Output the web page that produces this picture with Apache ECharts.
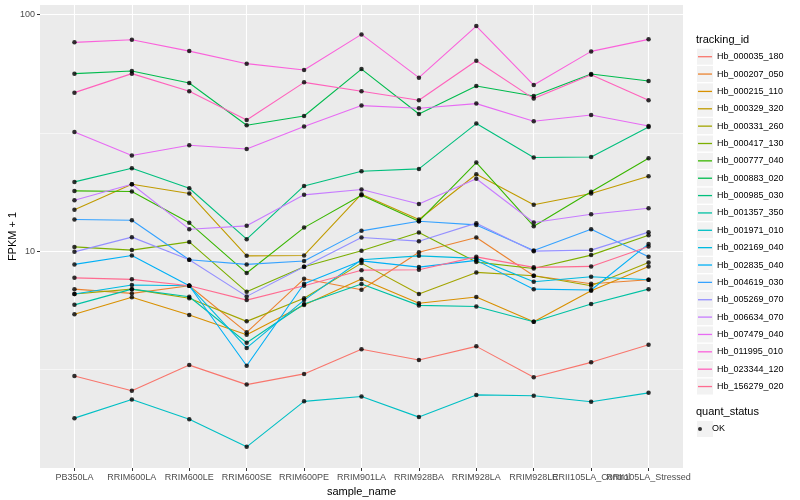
<!DOCTYPE html>
<html><head><meta charset="utf-8">
<script src="https://cdn.jsdelivr.net/npm/echarts@6/dist/echarts.min.js"></script>
<style>html,body{margin:0;padding:0;background:#fff}#c{width:800px;height:500px}</style>
</head><body><div id="c"></div>
<script>
const categories = ['PB350LA','RRIM600LA','RRIM600LE','RRIM600SE','RRIM600PE','RRIM901LA','RRIM928BA','RRIM928LA','RRIM928LE','RRII105LA_Control','RRII105LA_Stressed'];
const trackingIds = ['Hb_000035_180','Hb_000207_050','Hb_000215_110','Hb_000329_320','Hb_000331_260','Hb_000417_130','Hb_000777_040','Hb_000883_020','Hb_000985_030','Hb_001357_350','Hb_001971_010','Hb_002169_040','Hb_002835_040','Hb_004619_030','Hb_005269_070','Hb_006634_070','Hb_007479_040','Hb_011995_010','Hb_023344_120','Hb_156279_020'];

const Hb_000035_180 = [2.97, 2.57, 3.30, 2.73, 3.03, 3.85, 3.47, 3.96, 2.93, 3.39, 4.02];
const Hb_000207_050 = [6.91, 6.63, 7.14, 4.54, 7.64, 6.87, 9.90, 11.42, 7.87, 7.28, 7.57];
const Hb_000215_110 = [5.41, 6.38, 5.37, 4.43, 5.92, 7.62, 6.02, 6.40, 5.03, 6.80, 8.62];
const Hb_000329_320 = [14.97, 19.17, 17.52, 9.55, 9.59, 17.40, 13.61, 21.13, 15.71, 17.52, 20.72];
const Hb_000331_260 = [6.59, 6.91, 6.32, 5.05, 6.32, 8.90, 6.59, 8.13, 7.87, 7.14, 8.96];
const Hb_000417_130 = [10.42, 10.10, 10.94, 6.73, 8.59, 10.03, 11.99, 8.99, 8.45, 9.62, 11.68];
const Hb_000777_040 = [17.97, 17.86, 13.17, 8.08, 12.57, 17.23, 13.38, 23.68, 12.75, 17.83, 24.68];
const Hb_000883_020 = [56.21, 57.65, 51.29, 34.01, 37.23, 58.77, 37.96, 49.83, 45.21, 55.99, 52.31];
const Hb_000985_030 = [19.61, 22.39, 18.44, 11.23, 18.86, 21.76, 22.25, 34.58, 24.86, 25.00, 33.46];
const Hb_001357_350 = [5.93, 6.91, 6.42, 4.10, 5.98, 7.26, 5.90, 5.84, 5.03, 5.98, 6.91];
const Hb_001971_010 = [1.97, 2.36, 1.95, 1.49, 2.32, 2.43, 1.99, 2.47, 2.45, 2.31, 2.52];
const Hb_002169_040 = [6.59, 7.19, 7.14, 3.90, 6.21, 9.19, 9.55, 9.32, 7.42, 7.79, 7.57];
const Hb_002835_040 = [8.79, 9.59, 7.14, 3.28, 7.28, 9.10, 8.56, 9.14, 6.91, 6.85, 10.73];
const Hb_004619_030 = [13.61, 13.51, 9.19, 8.79, 9.08, 12.18, 13.38, 12.91, 10.07, 12.38, 9.46];
const Hb_005269_070 = [9.93, 11.46, 9.19, 6.44, 8.59, 11.42, 11.02, 13.13, 10.00, 10.10, 12.03];
const Hb_006634_070 = [16.41, 19.17, 12.38, 12.79, 17.29, 18.21, 15.83, 20.22, 13.22, 14.32, 15.18];
const Hb_007479_040 = [31.87, 25.34, 28.01, 27.02, 33.59, 41.19, 40.12, 42.00, 35.36, 37.59, 33.79];
const Hb_011995_010 = [76.20, 78.21, 69.99, 61.94, 58.21, 82.35, 54.06, 89.25, 50.31, 69.80, 78.45];
const Hb_023344_120 = [46.73, 56.21, 47.33, 35.81, 51.65, 47.33, 43.37, 63.77, 44.09, 55.67, 43.37];
const Hb_156279_020 = [7.71, 7.60, 7.14, 6.21, 7.14, 8.31, 8.34, 9.46, 8.54, 8.62, 10.46];

const seriesValues = [Hb_000035_180, Hb_000207_050, Hb_000215_110, Hb_000329_320, Hb_000331_260, Hb_000417_130, Hb_000777_040, Hb_000883_020, Hb_000985_030, Hb_001357_350, Hb_001971_010, Hb_002169_040, Hb_002835_040, Hb_004619_030, Hb_005269_070, Hb_006634_070, Hb_007479_040, Hb_011995_010, Hb_023344_120, Hb_156279_020];

const quantStatus = ['OK'];
const yMajorBreaks = [10, 100];
const yMinorBreaks = [3.162, 31.62];
const yLimits = [1.213, 109.6];

const palette = ['#F8766D','#EA8331','#D89000','#C09B00','#A3A500','#7CAE00','#39B600','#00BB4E','#00BF7D','#00C1A3','#00BFC4','#00BAE0','#00B0F6','#35A2FF','#9590FF','#C77CFF','#E76BF3','#FA62DB','#FF62BC','#FF6C91'];

const font = "'Liberation Sans', Arial, Helvetica, sans-serif";
const xIdx = categories.map((_, i) => i);
// tick-label groups (the last labels overlap in the original, so each sits on its own label layer)
const xLabelGroups = [xIdx.slice(0, xIdx.length - 2), [xIdx.length - 2], [xIdx.length - 1]];

const chart = echarts.init(document.getElementById('c'), null, {renderer: 'canvas'});

const lineSeries = trackingIds.map((id, k) => ({
  name: id,
  type: 'line',
  xAxisIndex: 0,
  yAxisIndex: 0,
  data: seriesValues[k].map((v, i) => [i, v]),
  showSymbol: false,
  symbol: 'none',
  lineStyle: {color: palette[k], width: 1.1},
  itemStyle: {color: palette[k]},
  z: 2,
  silent: true
}));

const pointSeries = {
  name: quantStatus[0],
  type: 'scatter',
  xAxisIndex: 0,
  yAxisIndex: 0,
  data: [].concat(...seriesValues.map(vals => vals.map((v, i) => [i, v]))),
  symbol: 'circle',
  symbolSize: 4.5,
  itemStyle: {color: '#000000'},
  z: 5,
  silent: true
};

const keyStep = 17.36;
const key0 = 56.7;
const keyLeft = 697;
const graphics = [
  {type: 'text', left: 696, top: 34, style: {text: 'tracking_id', font: '11px ' + font, fill: '#000'}},
  {type: 'text', left: 696, top: 406, style: {text: 'quant_status', font: '11px ' + font, fill: '#000'}}
];
trackingIds.forEach((id, i) => {
  graphics.push({type: 'rect', shape: {x: keyLeft, y: key0 + keyStep * i - 8, width: 16, height: 16}, style: {fill: '#F2F2F2'}, z: 0, silent: true});
});
graphics.push({type: 'rect', shape: {x: keyLeft, y: 429 - 8, width: 16, height: 16}, style: {fill: '#F2F2F2'}, z: 0, silent: true});

const xLabelStyle = {color: '#4D4D4D', fontSize: 9, margin: 5, fontFamily: font, hideOverlap: false, showMinLabel: true, showMaxLabel: true, formatter: v => categories[Math.round(v)]};

const xAxes = xLabelGroups.map((grp, g) => ({
  type: 'value',
  position: 'bottom',
  min: -0.6, max: 10.6,
  name: g === 0 ? 'sample_name' : '',
  nameLocation: 'middle',
  nameGap: 18,
  nameMoveOverlap: false,
  nameTextStyle: {color: '#000', fontSize: 11, fontFamily: font},
  axisLine: {show: false, onZero: false},
  axisTick: g === 0 ? {show: true, length: 3, lineStyle: {color: '#333333', width: 1}, customValues: xIdx} : {show: false, customValues: grp},
  axisLabel: Object.assign({customValues: grp}, xLabelStyle),
  splitLine: {show: g === 0, lineStyle: {color: '#FFFFFF', width: 1.1}},
  minorTick: {show: false},
  minorSplitLine: {show: false}
}));

const option = {
  animation: false,
  backgroundColor: '#ffffff',
  textStyle: {fontFamily: font},
  grid: {left: 40, right: 117, top: 5, bottom: 32, show: true, backgroundColor: '#EBEBEB', borderWidth: 0, containLabel: false, outerBoundsMode: 'none'},
  xAxis: xAxes,
  yAxis: [{
    type: 'log',
    logBase: 10,
    min: yLimits[0], max: yLimits[1],
    name: 'FPKM + 1',
    nameLocation: 'middle',
    nameGap: 22,
    nameRotate: 90,
    nameMoveOverlap: false,
    nameTextStyle: {color: '#000', fontSize: 11, fontFamily: font},
    axisLine: {show: false, onZero: false},
    axisTick: {show: true, length: 3, lineStyle: {color: '#333333', width: 1}, customValues: yMajorBreaks},
    axisLabel: {customValues: yMajorBreaks, formatter: v => String(Math.round(v)), color: '#4D4D4D', fontSize: 9, margin: 5, fontFamily: font, showMinLabel: true, showMaxLabel: true},
    splitLine: {show: true, lineStyle: {color: '#FFFFFF', width: 1.1}}
  }, {
    type: 'log',
    logBase: 10,
    min: yLimits[0], max: yLimits[1],
    position: 'right',
    axisLine: {show: false, onZero: false},
    axisTick: {show: false, customValues: yMinorBreaks},
    axisLabel: {show: false, customValues: yMinorBreaks},
    splitLine: {show: true, lineStyle: {color: '#FFFFFF', width: 0.55}}
  }],
  legend: [{
    data: trackingIds,
    orient: 'vertical',
    left: 698,
    top: key0 - keyStep / 2,
    padding: 0,
    itemGap: 0,
    itemWidth: 14,
    itemHeight: 1.3,
    icon: 'rect',
    selectedMode: false,
    textStyle: {color: '#000', fontSize: 9, lineHeight: keyStep, fontFamily: font}
  }, {
    data: quantStatus,
    orient: 'vertical',
    left: 698,
    top: 429 - keyStep / 2,
    padding: 0,
    itemGap: 0,
    itemWidth: 14,
    itemHeight: 4,
    icon: 'circle',
    selectedMode: false,
    itemStyle: {color: '#000'},
    textStyle: {color: '#000', fontSize: 9, lineHeight: keyStep, fontFamily: font}
  }],
  graphic: graphics,
  series: lineSeries.concat([pointSeries])
};
chart.setOption(option);
</script>
</body></html>
